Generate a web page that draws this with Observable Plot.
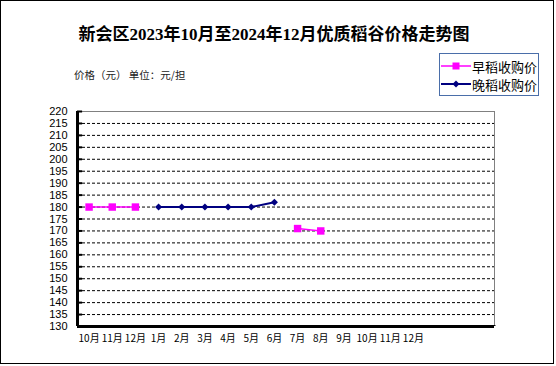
<!DOCTYPE html>
<html>
<head>
<meta charset="utf-8">
<script src="https://cdn.jsdelivr.net/npm/d3@7"></script>
<script src="https://cdn.jsdelivr.net/npm/@observablehq/plot@0.6"></script>
<style>
  html, body { margin: 0; padding: 0; background: #fff; }
  #wrap { position: relative; width: 556px; height: 366px; overflow: hidden; background: #fff; }
  #border { position: absolute; left: 0; top: 0; width: 552px; height: 362px; border: 1px solid #000; }
  #title { position: absolute; left: 0; width: 548px; top: 24px; text-align: center;
    font-family: "Liberation Serif", "Noto Sans CJK SC", serif; font-weight: bold; font-size: 17px; line-height: 22px; color: #000; }
  #subtitle { position: absolute; left: 74px; top: 68px; font-family: "Noto Sans CJK SC", sans-serif;
    font-size: 10.5px; line-height: 14px; color: #222; white-space: pre; }
  #legend { position: absolute; left: 439px; top: 53px; width: 98px; height: 41px; border: 1px solid #4a6ea9; background: #fff; }
  #legend .row { position: absolute; left: 0; height: 18px; display: flex; align-items: center; }
  #legend span { font-family: "Noto Sans CJK SC", sans-serif; font-size: 13px; color: #000; margin-left: 1px; }
  #chart { position: absolute; left: 0; top: 0; }
</style>
</head>
<body>
<div id="wrap">
  <div id="chart"></div>
  <div id="border"></div>
  <div id="title"></div>
  <div id="subtitle"></div>
  <div id="legend"></div>
</div>
<script>
const titleText = "新会区2023年10月至2024年12月优质稻谷价格走势图";
const subtitleText = "价格（元） 单位：元/担";
const months = ["10月","11月","12月","1月","2月","3月","4月","5月","6月","7月","8月","9月","10月","11月","12月"];
const emptySlots = 3;
const earlyRice = [180, 180, 180, null, null, null, null, null, null, 171, 170, null, null, null, null];
const lateRice  = [null, null, null, 180, 180, 180, 180, 180, 182, null, null, null, null, null, null];
const seriesNames = ["早稻收购价", "晚稻收购价"];
const seriesColors = ["#FF00FF", "#000080"];
const yTicks = d3.range(130, 221, 5);

document.getElementById("title").textContent = titleText;
document.getElementById("subtitle").textContent = subtitleText;

const slots = months.length + emptySlots;
const rows = months.map((m, i) => ({i, m, early: earlyRice[i], late: lateRice[i]}));
const yMin = yTicks[0], yMax = yTicks[yTicks.length - 1];

const chart = Plot.plot({
  width: 556,
  height: 366,
  marginLeft: 77,
  marginRight: 62,
  marginTop: 111,
  marginBottom: 40,
  style: {background: "transparent", fontFamily: "Liberation Sans, Arial, sans-serif", fontSize: "11px", color: "#000"},
  x: {domain: [0, slots], axis: null},
  y: {domain: [yMin, yMax], axis: null},
  marks: [
    // dashed gridlines
    Plot.ruleY(yTicks.filter(v => v > yMin && v < yMax), {stroke: "#000", strokeWidth: 1, strokeDasharray: "3,2"}),
    // top and right frame lines
    Plot.ruleY([yMax], {stroke: "#808080", strokeWidth: 1}),
    Plot.ruleX([slots], {stroke: "#808080", strokeWidth: 1}),
    // y tick marks (inside)
    Plot.ruleY(yTicks, {x1: 0, x2: 0.22, stroke: "#000", strokeWidth: 2}),
    // x tick marks (inside)
    Plot.ruleX(d3.range(1, slots + 1), {y1: yMin, y2: yMin + 0.4, stroke: "#000", strokeWidth: 2}),
    // axes lines
    Plot.ruleX([0], {stroke: "#000", strokeWidth: 3}),
    Plot.ruleY([yMin], {x1: 0, x2: slots, stroke: "#000", strokeWidth: 3}),
    Plot.axisY({ticks: yTicks, tickSize: 0, tickPadding: 10, tickFormat: d => d, fontSize: 11}),
    Plot.axisX({ticks: months.map((m, i) => i + 0.5), tickSize: 0, tickPadding: 8, tickFormat: v => months[Math.round(v - 0.5)], fontSize: 10, fontFamily: "Noto Sans CJK SC, sans-serif"}),
    // series
    Plot.line(rows, {x: d => d.i + 0.5, y: "early", stroke: seriesColors[0], strokeWidth: 1.5}),
    Plot.dot(rows.filter(d => d.early != null), {x: d => d.i + 0.5, y: "early", symbol: "square", r: 4.2, fill: seriesColors[0], stroke: "none"}),
    Plot.line(rows, {x: d => d.i + 0.5, y: "late", stroke: seriesColors[1], strokeWidth: 2}),
    Plot.dot(rows.filter(d => d.late != null), {x: d => d.i + 0.5, y: "late", symbol: "diamond2", r: 3.2, fill: seriesColors[1], stroke: "none"})
  ]
});
document.getElementById("chart").appendChild(chart);

// legend
const legend = document.getElementById("legend");
seriesNames.forEach((name, k) => {
  const row = document.createElement("div");
  row.className = "row";
  row.style.top = (k === 0 ? 3 : 21) + "px";
  const sym = k === 0
    ? `<rect x="12.5" y="5.5" width="7" height="7" fill="${seriesColors[0]}"/>`
    : `<path d="M16 5.5 L19.5 9 L16 12.5 L12.5 9 Z" fill="${seriesColors[1]}"/>`;
  row.innerHTML = `<svg width="31" height="18" style="display:block"><line x1="1" x2="31" y1="9" y2="9" stroke="${seriesColors[k]}" stroke-width="${k === 0 ? 1.5 : 2}"/>${sym}</svg><span>${name}</span>`;
  legend.appendChild(row);
});
</script>
</body>
</html>
